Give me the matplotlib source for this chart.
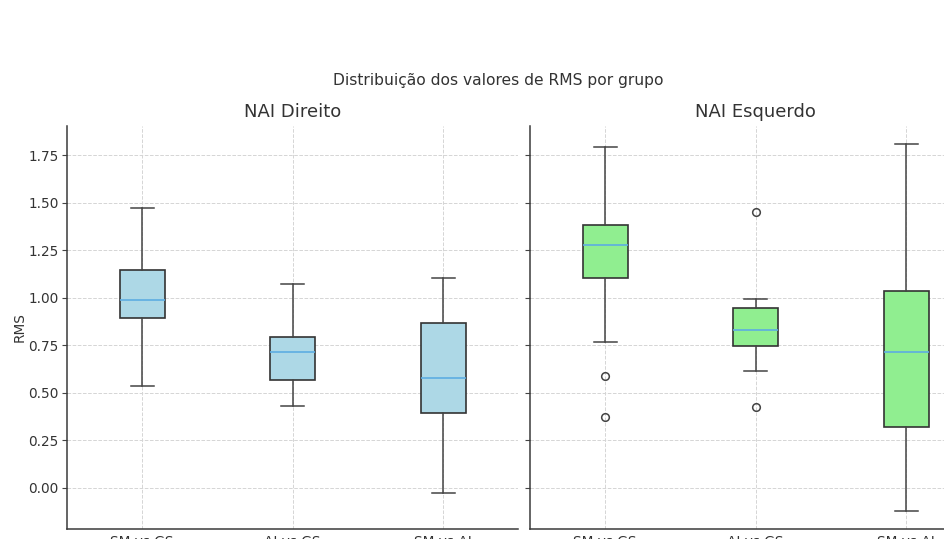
import numpy as np
import matplotlib
matplotlib.use('Agg')
import matplotlib.pyplot as plt

grupos = ['SM vs GS', 'AI vs GS', 'SM vs AI']

# NAI Direito: estatisticas de cada caixa
dir_mediana = [0.988, 0.711, 0.575]
dir_q1 = [0.893, 0.565, 0.391]
dir_q3 = [1.146, 0.795, 0.868]
dir_min = [0.535, 0.431, -0.026]
dir_max = [1.472, 1.074, 1.102]
dir_outliers = [[], [], []]

# NAI Esquerdo
esq_mediana = [1.278, 0.827, 0.711]
esq_q1 = [1.104, 0.743, 0.320]
esq_q3 = [1.382, 0.945, 1.035]
esq_min = [0.767, 0.616, -0.123]
esq_max = [1.794, 0.993, 1.808]
esq_outliers = [[0.588, 0.373], [1.451, 0.423], []]

TXT = '#333333'
plt.rcParams['font.family'] = 'DejaVu Sans'
plt.rcParams['text.color'] = TXT
plt.rcParams['axes.labelcolor'] = TXT
plt.rcParams['xtick.color'] = TXT
plt.rcParams['ytick.color'] = TXT


def estatisticas(med, q1, q3, lo, hi, fl):
    return [dict(med=med[i], q1=q1[i], q3=q3[i], whislo=lo[i], whishi=hi[i],
                 fliers=fl[i], label=grupos[i]) for i in range(len(grupos))]


def desenha(ax, stats, cor, titulo):
    ax.bxp(stats, positions=[1, 2, 3], widths=0.3, patch_artist=True,
           boxprops=dict(facecolor=cor, edgecolor='#333333', linewidth=1.2),
           medianprops=dict(color='#5dade2', linewidth=1.2),
           whiskerprops=dict(color='#444444', linewidth=1.1),
           capprops=dict(color='#444444', linewidth=1.1),
           flierprops=dict(marker='o', markerfacecolor='none',
                           markeredgecolor='#444444', markersize=5.5,
                           markeredgewidth=1.1))
    ax.set_title(titulo, fontsize=13, color=TXT)
    ax.grid(True, linestyle='--', color='#d5d5d5', linewidth=0.7)
    ax.set_axisbelow(True)
    for s in ['top', 'right']:
        ax.spines[s].set_visible(False)
    for s in ['left', 'bottom']:
        ax.spines[s].set_color('#3a3a3a')
        ax.spines[s].set_linewidth(1.1)
    ax.tick_params(labelsize=9.8, color='#444444')
    ax.tick_params(axis='x', length=0, pad=4)


fig = plt.figure(figsize=(9.45, 5.39), dpi=100)
ax1 = fig.add_axes([67 / 945, 0.018, 451.5 / 945, 0.7488])
ax2 = fig.add_axes([530 / 945, 0.018, 451.5 / 945, 0.7488], sharey=ax1)

desenha(ax1, estatisticas(dir_mediana, dir_q1, dir_q3, dir_min, dir_max, dir_outliers),
        'lightblue', 'NAI Direito')
desenha(ax2, estatisticas(esq_mediana, esq_q1, esq_q3, esq_min, esq_max, esq_outliers),
        'lightgreen', 'NAI Esquerdo')
ax2.tick_params(labelleft=False)
ax1.set_yticks(np.arange(0, 2.0, 0.25))
ax1.tick_params(axis='y', pad=2.5)
ax1.set_ylabel('RMS', fontsize=9.8, labelpad=1)

fig.text(498 / 945, 1 - 80 / 539, 'Distribuição dos valores de RMS por grupo',
         ha='center', va='center', fontsize=11.2, color=TXT)

fig.savefig('out.png', dpi=100)
